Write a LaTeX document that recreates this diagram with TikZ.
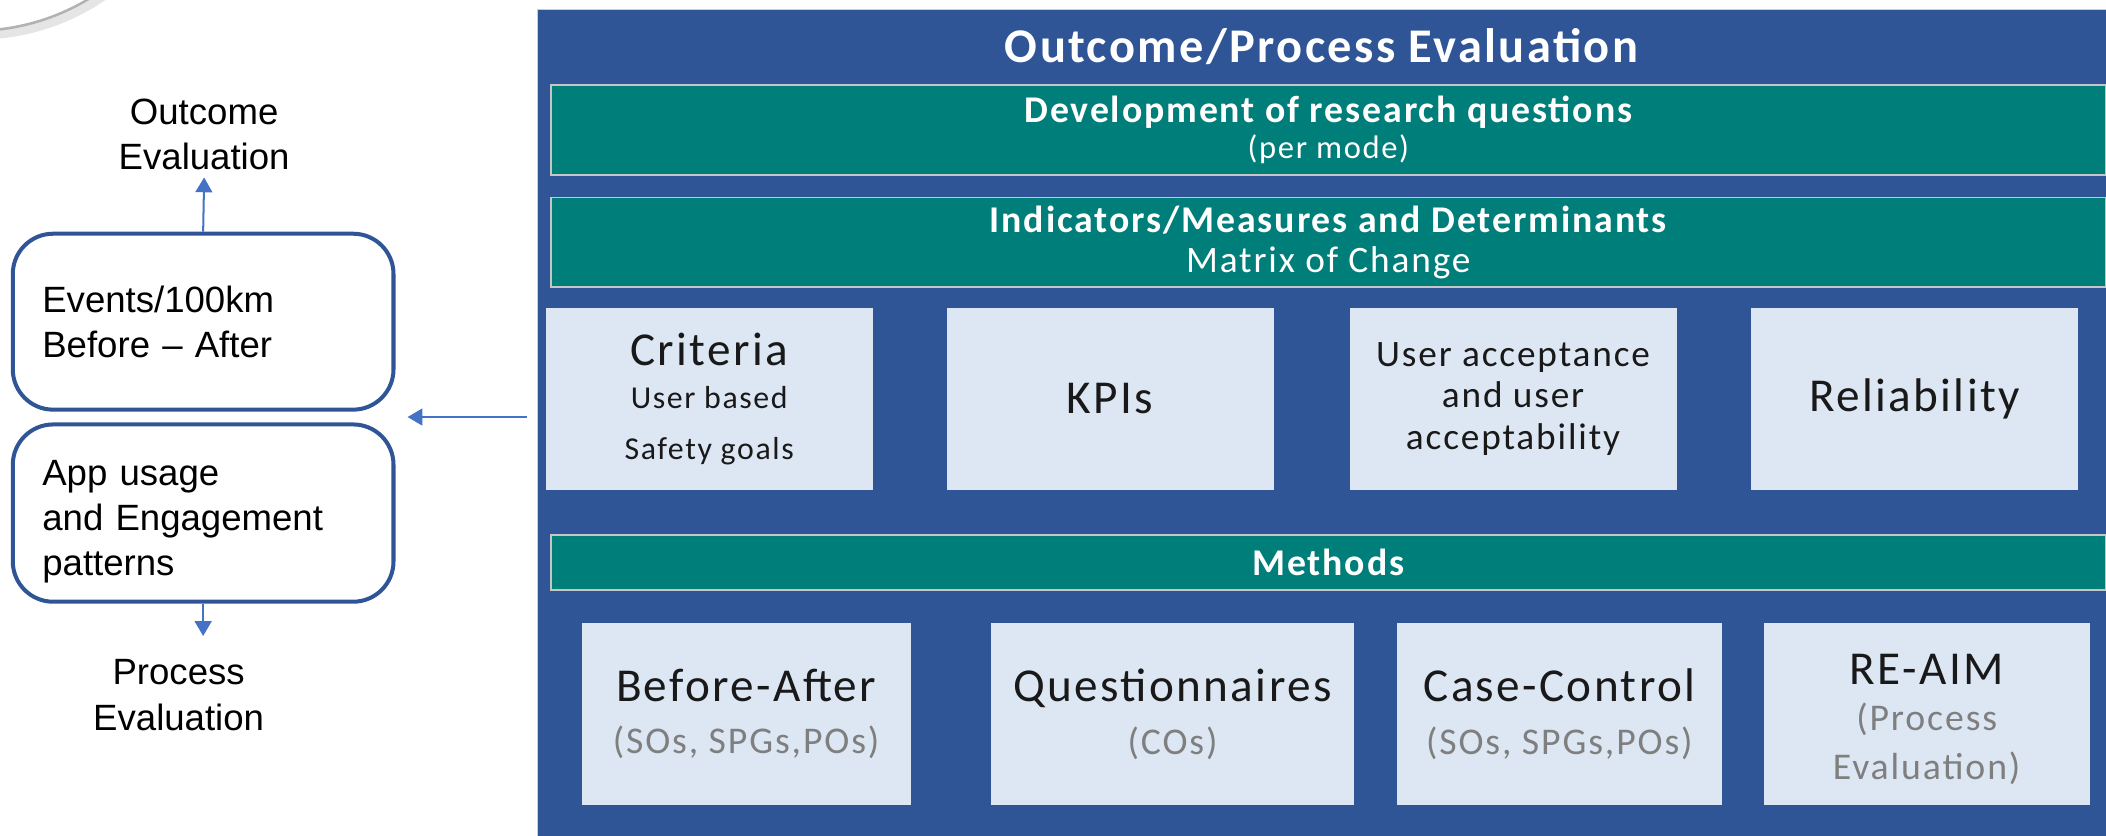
\documentclass[tikz,border=0pt]{standalone}
\usepackage{fontspec}
\setmainfont{Carlito}[LetterSpace=5]
\newfontfamily\arialfont{Liberation Sans}
\usetikzlibrary{arrows.meta,calc}

\definecolor{panelblue}{HTML}{2F5597}
\definecolor{tealbar}{HTML}{007E7A}
\definecolor{cellfill}{HTML}{DDE7F4}
\definecolor{subgray}{HTML}{7F7F7F}
\definecolor{arrowblue}{HTML}{4472C4}
\definecolor{boxline}{HTML}{2F5597}

\newcommand{\ftitle}{\bfseries\fontsize{20.5}{24}\selectfont}
\newcommand{\fhead}{\bfseries\fontsize{16}{17}\selectfont}
\newcommand{\fnote}{\fontsize{13.8}{15.2}\selectfont}
\newcommand{\fmatrix}{\fontsize{15.8}{17}\selectfont}
\newcommand{\fbig}{\fontsize{20}{22}\selectfont}
\newcommand{\fsmall}{\fontsize{13.5}{18}\selectfont}
\newcommand{\fmid}{\fontsize{15.8}{17.6}\selectfont}
\newcommand{\fsub}{\fontsize{16}{22.4}\selectfont}
\newcommand{\fleft}{\arialfont\fontsize{15.5}{19.2}\selectfont}

\begin{document}
\begin{tikzpicture}[x=0.02cm,y=-0.02cm,
    bluepanel/.style={fill=panelblue,draw=gray!40,line width=0.6pt,inner sep=0pt,outer sep=0pt,minimum width=23.44cm,minimum height=12.46cm},
    headbar/.style={fill=tealbar,draw=gray!45,line width=0.8pt,text=white,align=center,inner sep=0pt,minimum width=23.16cm},
    cell/.style={fill=cellfill,text=black!90,align=center,inner sep=0pt,minimum width=4.87cm},
    roundbox/.style={draw=boxline,line width=1.7pt,rounded corners=0.6cm,font=\fleft,align=left,text width=4.79cm,inner xsep=0.44cm,inner ysep=0pt},
    evallabel/.style={font=\fleft,align=center,inner sep=3pt},
    arr/.style={draw=arrowblue,line width=0.85pt,-{Triangle[width=0.25cm,length=0.22cm]}}]
  \useasboundingbox (0,0) rectangle (1568,622);
  % shaded arc in the corner
  \begin{scope}
    \clip (0,0) rectangle (1568,622);
    \draw[gray!20,line width=3.5pt] (-17,-139.5) circle[radius=3.32cm];
    \draw[gray!60,line width=1.1pt] (-19.5,-143) circle[radius=3.32cm];
  \end{scope}

  % right panel
  \node[bluepanel] (panel) at (986,318.5) {};
  \node[font=\ftitle,text=white] (title) at (984,35) {Outcome/Process Evaluation};
  \node[headbar,minimum height=1.34cm,font=\fnote] (devq) at (989,96.5)
    {{\fhead Development of research questions}\\(per mode)};
  \node[headbar,minimum height=1.34cm,font=\fmatrix] (indic) at (989,180.5)
    {{\fhead Indicators/Measures and Determinants}\\Matrix of Change};
  \node[headbar,minimum height=0.82cm,font=\fhead] (methods) at (989,418.5) {Methods};

  % indicators row
  \node[cell,minimum height=2.72cm,font=\fsmall] (crit) at (528,297)
    {{\fbig Criteria}\\User based\\[3.5pt]Safety goals};
  \node[cell,minimum height=2.72cm,font=\fbig] (kpi) at (826.5,297) {KPIs};
  \node[cell,minimum height=2.72cm,font=\fmid] (accept) at (1126.5,297)
    {User acceptance\\and user\\acceptability};
  \node[cell,minimum height=2.72cm,font=\fbig] (reliab) at (1425.5,297) {Reliability};

  % methods row
  \node[cell,minimum height=2.7cm,minimum width=4.9cm,font=\fsub] (befaft) at (555.5,531.5)
    {{\fbig Before-After}\\\textcolor{subgray}{(SOs, SPGs,POs)}};
  \node[cell,minimum height=2.7cm,minimum width=5.4cm,font=\fsub] (quest) at (873,531.5)
    {{\fbig Questionnaires}\\\textcolor{subgray}{(COs)}};
  \node[cell,minimum height=2.7cm,minimum width=4.84cm,font=\fsub] (casectl) at (1161,531.5)
    {{\fbig Case-Control}\\\textcolor{subgray}{(SOs, SPGs,POs)}};
  \node[cell,minimum height=2.7cm,minimum width=4.86cm,font=\fsub] (reaim) at (1434.5,531.5)
    {{\fbig\rule{0pt}{17.5pt}RE-AIM}\\[-2.8pt]\textcolor{subgray}{(Process}\\[-1.4pt]\textcolor{subgray}{Evaluation)}};

  % left side
  \node[evallabel] (outc) at (152,100) {Outcome\\Evaluation};
  \node[roundbox,minimum height=2.62cm] (evt) at (151.25,239.5) {Events/100km\\Before – After};
  \node[roundbox,minimum height=2.64cm] (app) at (151.25,382)
    {\rule{0pt}{18pt}App usage\\and Engagement\\patterns};
  \node[evallabel] (proc) at (133,517.5) {Process\\Evaluation};
  \coordinate (gap) at ($(evt.south east)!0.5!(app.north east)$);

  \draw[arr] (evt.north) -- (outc.south);
  \draw[arr,shorten >=0.24cm] (app.south) -- (proc.north -| app.south);
  \draw[arr,shorten <=0.16cm,shorten >=0.18cm] (gap -| panel.west) -- (gap);
\end{tikzpicture}
\end{document}
